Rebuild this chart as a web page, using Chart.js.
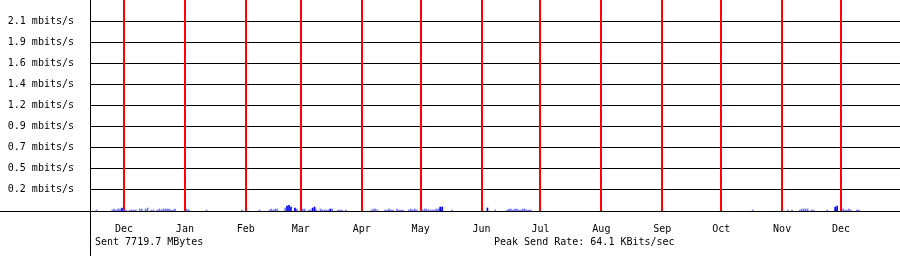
<!DOCTYPE html>
<html>
<head>
<meta charset="utf-8">
<script src="https://cdn.jsdelivr.net/npm/chart.js@4"></script>
<style>
  body { margin: 0; background: #fff; }
  .wrap { position: relative; width: 900px; height: 256px; }
  .note { position: absolute; top: 237px; font: 10px/10px "DejaVu Sans Mono", monospace; color: #000; white-space: pre; }
</style>
</head>
<body>
<div class="wrap">
  <canvas id="myChart" width="900" height="256"></canvas>
  <div class="note" style="left:95px">Sent 7719.7 MBytes</div>
  <div class="note" style="left:494px">Peak Send Rate: 64.1 KBits/sec</div>
</div>
<script>
// days counted from the first Dec 1, values in kbit/s
const monthDays = [0, 31, 62, 90, 121, 151, 182, 212, 243, 274, 304, 335, 365];
const monthLabels = ["Dec", "Jan", "Feb", "Mar", "Apr", "May", "Jun", "Jul", "Aug", "Sep", "Oct", "Nov", "Dec"];

const yTickValues = [233.3, 466.7, 700, 933.3, 1166.7, 1400, 1633.3, 1866.7, 2100];
const yTickLabels = ["0.2 mbits/s", "0.5 mbits/s", "0.7 mbits/s", "0.9 mbits/s", "1.2 mbits/s",
  "1.4 mbits/s", "1.6 mbits/s", "1.9 mbits/s", "2.1 mbits/s"];

const avgDays = [-14, -6, -5, -4, -3, -2, 0, 1, 3, 4, 5, 6, 8, 9, 11, 12, 14, 15, 17, 18, 19, 20, 21, 22, 23, 24, 25, 26,
  32, 33, 42, 60, 69, 74, 75, 76, 77, 78, 82, 87, 88, 91, 92, 94, 95, 97, 98, 100, 101, 102, 103, 104, 106, 109, 110, 111, 113,
  126, 127, 128, 129, 133, 134, 135, 136, 137, 139, 140, 141, 142, 145, 146, 147, 148, 149,
  152, 153, 154, 155, 156, 157, 158, 159, 160, 161, 167, 189, 195, 196, 197, 198, 199, 200, 201, 202, 203, 204, 205, 206, 207,
  320, 338, 340, 344, 345, 346, 347, 348, 350, 351, 358, 363, 366, 367, 368, 369, 370, 373, 374];
const avgKbps = [11, 11, 22, 11, 22, 22, 11, 11, 11, 11, 11, 11, 22, 22, 22, 33, 11, 11, 11, 22, 11, 22, 22, 22, 22, 11, 11, 22,
  22, 11, 11, 11, 11, 11, 22, 11, 22, 22, 33, 22, 22, 22, 22, 11, 11, 22, 11, 22, 11, 11, 11, 11, 22, 11, 11, 11, 11,
  11, 22, 22, 11, 11, 11, 22, 11, 11, 22, 11, 11, 11, 11, 22, 11, 22, 11,
  11, 22, 22, 11, 11, 11, 11, 22, 22, 33, 11, 11, 11, 22, 22, 11, 22, 22, 11, 11, 22, 22, 11, 11, 11,
  11, 11, 11, 11, 22, 22, 22, 22, 11, 11, 11, 22, 22, 11, 11, 22, 11, 11, 11];

const peakDays = [-1, 83, 84, 85, 87, 96, 97, 105, 161, 162, 185, 362, 363];
const peakKbps = [33, 55, 64, 44, 33, 33, 44, 22, 44, 44, 33, 44, 55];

const ctx = document.getElementById("myChart");
const font = { family: "'DejaVu Sans Mono', monospace", size: 10 };

const frameLines = {
  id: "frameLines",
  afterDraw(chart) {
    const c = chart.ctx;
    const a = chart.chartArea;
    c.save();
    c.strokeStyle = "#000";
    c.lineWidth = 1;
    c.beginPath();
    c.moveTo(Math.round(a.left) + 0.5, 0);
    c.lineTo(Math.round(a.left) + 0.5, chart.height);
    c.moveTo(0, Math.round(a.bottom) + 0.5);
    c.lineTo(chart.width, Math.round(a.bottom) + 0.5);
    c.stroke();
    c.restore();
  },
};

new Chart(ctx, {
  type: "bar",
  data: {
    datasets: [
      {
        label: "peak",
        data: peakDays.map((d, i) => ({ x: d, y: peakKbps[i] })),
        backgroundColor: "rgb(0,0,255)",
        barThickness: 1,
        grouped: false,
      },
      {
        label: "average",
        data: avgDays.map((d, i) => ({ x: d, y: avgKbps[i] })),
        backgroundColor: "rgb(112,112,255)",
        barThickness: 1,
        grouped: false,
      },
    ],
  },
  options: {
    responsive: false,
    animation: false,
    layout: { padding: 0 },
    plugins: { legend: { display: false }, tooltip: { enabled: false } },
    scales: {
      x: {
        type: "linear",
        offset: false,
        min: -17.3,
        max: 395,
        afterBuildTicks: (scale) => {
          scale.ticks = monthDays.map((v) => ({ value: v }));
        },
        afterFit: (scale) => {
          scale.height = 45;
          scale.paddingLeft = 0;
          scale.paddingRight = 0;
        },
        ticks: {
          autoSkip: false,
          maxRotation: 0,
          padding: 12,
          color: "#000",
          font: font,
          callback: (v, i) => monthLabels[i],
        },
        grid: { offset: false, color: "#ff0000", lineWidth: 2, drawTicks: false, z: -0.5 },
        border: { display: false },
      },
      y: {
        type: "linear",
        min: 0,
        max: 2333.3,
        afterBuildTicks: (scale) => {
          scale.ticks = yTickValues.map((v) => ({ value: v }));
        },
        afterFit: (scale) => {
          scale.width = 90;
          scale.paddingTop = 0;
          scale.paddingBottom = 0;
        },
        ticks: {
          padding: 16,
          color: "#000",
          font: font,
          callback: (v, i) => yTickLabels[i],
        },
        grid: { color: "#000", lineWidth: 1, drawTicks: false },
        border: { display: false },
      },
    },
  },
  plugins: [frameLines],
});
</script>
</body>
</html>
